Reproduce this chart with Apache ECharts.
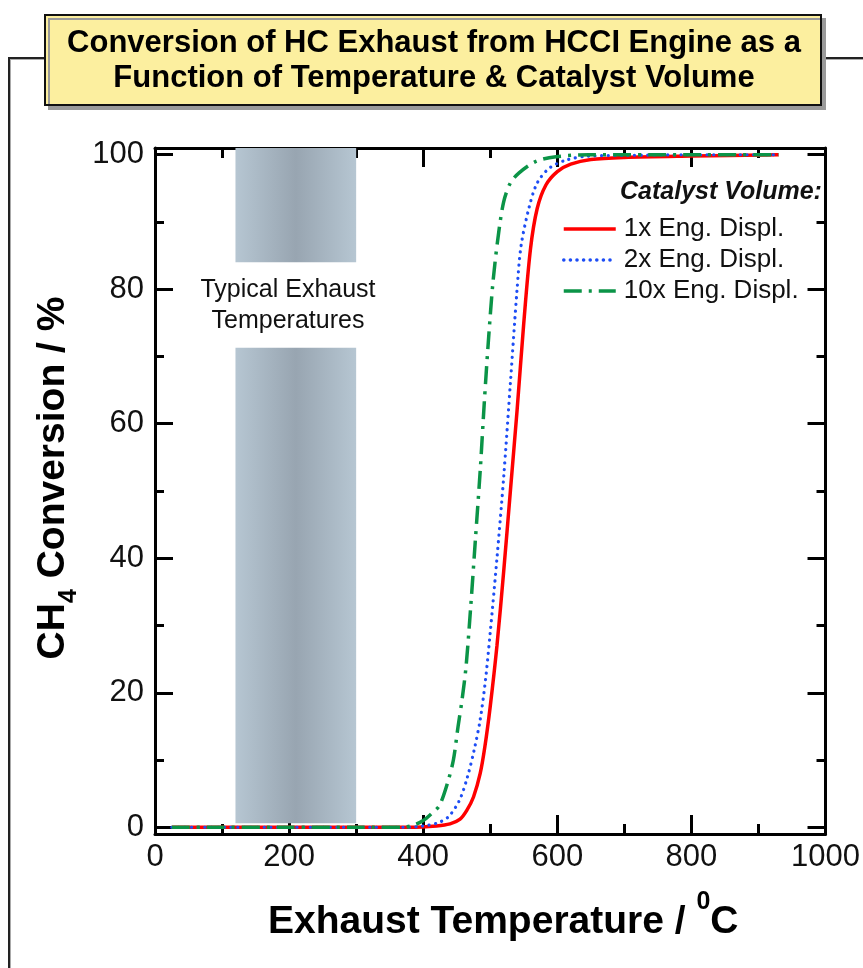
<!DOCTYPE html>
<html lang="en">
<head>
<meta charset="UTF-8">
<title>HC conversion vs exhaust temperature</title>
<style>
html, body { margin: 0; padding: 0; background: #fff; }
#main { width: 863px; height: 968px; }
</style>
</head>
<body>
<div id="main"></div>
<script src="https://cdn.jsdelivr.net/npm/echarts@6/dist/echarts.min.js"></script>
<script>
var FONT = '"Liberation Sans", Arial, sans-serif';

var seriesNames = ['1x Eng. Displ.', '2x Eng. Displ.', '10x Eng. Displ.'];

// exhaust temperature (C) / CH4 conversion (%)
var temp1x = [25, 100, 200, 300, 380, 420, 440, 455, 465, 475, 485, 492, 500, 510, 520, 530, 540, 550, 560, 570, 583, 600, 620, 650, 700, 800, 930];
var conv1x = [0, 0, 0, 0, 0, 0.2, 0.5, 1.2, 2.5, 4.5, 8, 12, 18, 27, 38, 50, 62, 75, 86, 92, 95.5, 97.5, 98.6, 99.3, 99.6, 99.8, 100];

var temp2x = [25, 100, 200, 300, 380, 400, 420, 437, 454, 466, 476, 485, 493, 500, 510, 520, 530, 540, 546, 558, 570, 588, 613, 647, 700, 800, 930];
var conv2x = [0, 0, 0, 0, 0, 0.2, 0.6, 1.5, 4, 7.5, 11.5, 16, 22, 29, 40, 52, 66, 80, 86.5, 92.2, 95.8, 98, 99.2, 99.8, 99.9, 100, 100];

var temp10x = [25, 100, 200, 300, 370, 385, 400, 412, 424, 436, 445, 452, 458, 464, 471, 478, 485, 491, 497, 504, 512, 520, 530, 543, 568, 598, 647, 800, 930];
var conv10x = [0, 0, 0, 0, 0, 0.3, 1, 2, 3.2, 6.5, 10, 15, 19, 24, 33, 43, 53, 63, 72, 81, 88, 93, 95.8, 97.3, 99, 99.7, 100, 100, 100];

var yMajor = [0, 20, 40, 60, 80, 100];
var yMinor = [10, 30, 50, 70, 90];

// typical exhaust temperature band, with a gap where its label sits
var bandTemp = [120, 300];
var bandLow = [0.6, 71.3];
var bandHigh = [84, 101];

function zip(xs, ys) {
    return xs.map(function (x, i) { return [x, ys[i]]; });
}

var myChart = echarts.init(document.getElementById('main'));

var bandColor = {
    type: 'linear', x: 0, y: 0, x2: 1, y2: 0,
    colorStops: [
        { offset: 0, color: '#b6c6d2' },
        { offset: 0.5, color: '#98a5b1' },
        { offset: 1, color: '#b6c6d2' }
    ]
};

function yAxisCfg(pos, values, len, withLabels, withLine) {
    return {
        type: 'value', position: pos, min: -1, max: 101,
        axisLine: { show: withLine, onZero: false, lineStyle: { color: '#000', width: 3 } },
        axisTick: { show: true, inside: true, length: len, customValues: values, lineStyle: { color: '#000', width: 3 } },
        axisLabel: withLabels ? { show: true, customValues: values, fontSize: 31, color: '#111', fontFamily: FONT, margin: 11 } : { show: false },
        splitLine: { show: false }
    };
}

function xAxisCfg(pos, withLabels) {
    return {
        type: 'value', position: pos, min: 0, max: 1000, interval: 200,
        axisLine: { show: true, onZero: false, lineStyle: { color: '#000', width: 3 } },
        axisTick: { show: true, inside: true, length: 19, lineStyle: { color: '#000', width: 3 } },
        minorTick: { show: true, splitNumber: 2, length: 10, lineStyle: { color: '#000', width: 3 } },
        axisLabel: withLabels ? {
            show: true, fontSize: 31, color: '#111', fontFamily: FONT, margin: 8,
            formatter: function (v) { return String(v); }
        } : { show: false },
        splitLine: { show: false }
    };
}

var xBottom = xAxisCfg('bottom', true);
xBottom.name = 'Exhaust Temperature / {sup|0}C';
xBottom.nameLocation = 'middle';
xBottom.nameGap = 69;
xBottom.nameTextStyle = {
    fontSize: 39, fontWeight: 'bold', color: '#000', fontFamily: FONT, padding: [0, 0, 0, 26],
    rich: { sup: { fontSize: 25, fontWeight: 'bold', color: '#000', fontFamily: FONT, lineHeight: 25, padding: [0, 0, 40, 0] } }
};

var yLeft = yAxisCfg('left', yMajor, 18, true, true);
yLeft.name = 'CH{sub|4} Conversion / %';
yLeft.nameLocation = 'middle';
yLeft.nameRotate = 90;
yLeft.nameGap = 63;
yLeft.nameTextStyle = {
    fontSize: 39, fontWeight: 'bold', color: '#000', fontFamily: FONT, padding: [0, 0, 0, 26],
    rich: { sub: { fontSize: 25, fontWeight: 'bold', color: '#000', fontFamily: FONT, lineHeight: 25, padding: [32, 0, 0, 0] } }
};

var option = {
    backgroundColor: '#fff',
    animation: false,
    grid: { left: 155, right: 36, top: 148, bottom: 134, containLabel: false },
    xAxis: [xBottom, xAxisCfg('top', false)],
    yAxis: [
        yLeft,
        yAxisCfg('left', yMinor, 9, false, false),
        yAxisCfg('right', yMajor, 18, false, true),
        yAxisCfg('right', yMinor, 9, false, false)
    ],
    legend: {
        orient: 'vertical', left: 557, top: 211,
        itemWidth: 52, itemHeight: 14, itemGap: 5,
        data: seriesNames,
        itemStyle: { opacity: 0 },
        lineStyle: { width: 3.5 },
        textStyle: { fontSize: 26, color: '#111', fontFamily: FONT, padding: [0, 0, 0, 3] }
    },
    graphic: [
        // outer frame
        { type: 'polyline', silent: true, z: 1, shape: { points: [[10, 968], [10, 59], [45, 59]] }, style: { stroke: '#aaa', lineWidth: 2, fill: null } },
        { type: 'polyline', silent: true, z: 1, shape: { points: [[9, 968], [9, 58], [45, 58]] }, style: { stroke: '#222', lineWidth: 2, fill: null } },
        { type: 'line', silent: true, z: 1, shape: { x1: 820, y1: 59, x2: 863, y2: 59 }, style: { stroke: '#aaa', lineWidth: 2 } },
        { type: 'line', silent: true, z: 1, shape: { x1: 820, y1: 58, x2: 863, y2: 58 }, style: { stroke: '#222', lineWidth: 2 } },
        // title box
        { type: 'rect', silent: true, z: 2, shape: { x: 45, y: 15, width: 776, height: 90 },
          style: { fill: '#fcef9f', stroke: '#111', lineWidth: 2, shadowColor: '#9a9a9a', shadowOffsetX: 4, shadowOffsetY: 4, shadowBlur: 0 } },
        { type: 'text', silent: true, z: 3, x: 434, y: 61,
          style: { text: 'Conversion of HC Exhaust from HCCI Engine as a\nFunction of Temperature & Catalyst Volume',
                   fill: '#000', font: 'bold 31px ' + FONT, lineHeight: 35, align: 'center', verticalAlign: 'middle' } },
        // band label
        { type: 'text', silent: true, z: 10, x: 288, y: 306,
          style: { text: 'Typical Exhaust\nTemperatures', fill: '#111', font: '25px ' + FONT, lineHeight: 31, align: 'center', verticalAlign: 'middle' } },
        // legend heading
        { type: 'text', silent: true, z: 10, x: 620, y: 192,
          style: { text: 'Catalyst Volume:', fill: '#111', font: 'italic bold 25px ' + FONT, align: 'left', verticalAlign: 'middle' } }
    ],
    series: [
        {
            name: seriesNames[0], type: 'line', data: zip(temp1x, conv1x),
            symbol: 'none', smooth: 0.3, z: 3,
            lineStyle: { color: '#ff0000', width: 3.5 },
            itemStyle: { color: '#ff0000' },
            markArea: {
                silent: true,
                itemStyle: { color: bandColor },
                data: [
                    [{ xAxis: bandTemp[0], yAxis: bandHigh[0] }, { xAxis: bandTemp[1], yAxis: bandHigh[1] }],
                    [{ xAxis: bandTemp[0], yAxis: bandLow[0] }, { xAxis: bandTemp[1], yAxis: bandLow[1] }]
                ]
            }
        },
        {
            name: seriesNames[1], type: 'line', data: zip(temp2x, conv2x),
            symbol: 'none', smooth: 0.3, z: 4,
            lineStyle: { color: '#1d4df5', width: 3.2, type: [0.1, 6.5], cap: 'round' },
            itemStyle: { color: '#1d4df5' }
        },
        {
            name: seriesNames[2], type: 'line', data: zip(temp10x, conv10x),
            symbol: 'none', smooth: 0.3, z: 5,
            lineStyle: { color: '#0b9447', width: 3.5, type: [18, 7, 3, 7] },
            itemStyle: { color: '#0b9447' }
        }
    ]
};

myChart.setOption(option);
</script>
</body>
</html>
